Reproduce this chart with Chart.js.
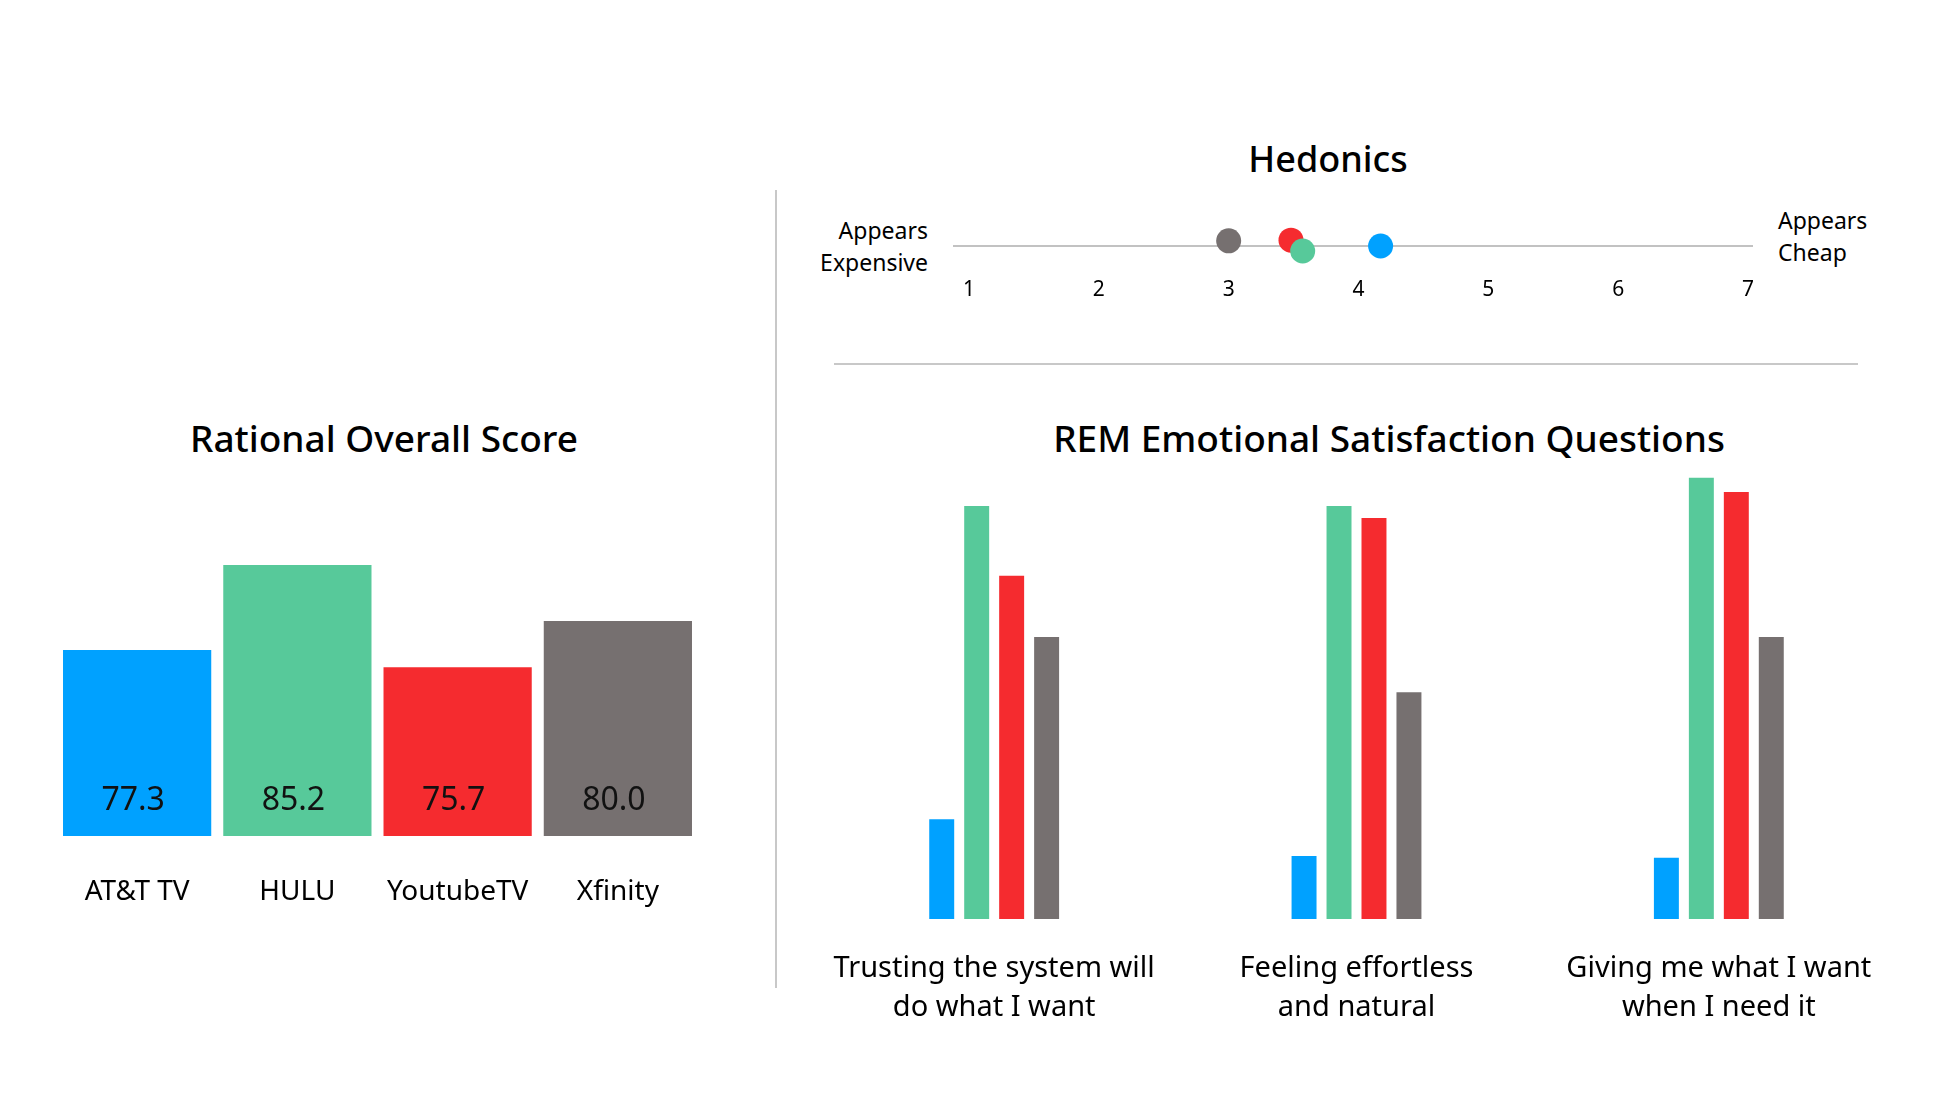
<!DOCTYPE html>
<html>
<head>
<meta charset="utf-8">
<script src="https://cdn.jsdelivr.net/npm/chart.js@4.4.1/dist/chart.umd.min.js"></script>
<style>
  html, body { margin:0; padding:0; background:#fff; width:1960px; height:1116px; overflow:hidden;
    font-family:"Noto Sans", sans-serif; color:#000; }
  .box { position:absolute; }
  .title { position:absolute; font-weight:500; font-size:37px; line-height:44px; white-space:nowrap; transform:translateX(-50%); }
  .side { position:absolute; font-size:23px; line-height:32px; white-space:nowrap; }
  .rule { position:absolute; background:#c8c8c8; }
</style>
</head>
<body>

<div class="title" style="left:384px; top:416px;">Rational Overall Score</div>
<div class="title" style="left:1328px; top:137px; font-size:36px;">Hedonics</div>
<div class="title" style="left:1389px; top:416px;">REM Emotional Satisfaction Questions</div>

<div class="side" style="right:1032px; top:214px; text-align:right;">Appears<br>Expensive</div>
<div class="side" style="left:1778px; top:204px; text-align:left;">Appears<br>Cheap</div>

<div class="rule" style="left:775px; top:190px; width:2px; height:798px;"></div>
<div class="rule" style="left:834px; top:363px; width:1024px; height:2px;"></div>

<div class="box" style="left:0px; top:380px; width:776px; height:560px;"><canvas id="rational"></canvas></div>
<div class="box" style="left:800px; top:200px; width:1000px; height:120px;"><canvas id="hedonics"></canvas></div>
<div class="box" style="left:790px; top:440px; width:1170px; height:600px;"><canvas id="rem"></canvas></div>

<script>
// ---------- data ----------
const brands = ["AT&T TV", "HULU", "YoutubeTV", "Xfinity"];
const brandColors = ["#00a1ff", "#57c99a", "#f52b2f", "#767070"];

// Rational Overall Score
const rationalScores = [77.3, 85.2, 75.7, 80.0];

// Hedonics (1 = Appears Expensive, 7 = Appears Cheap)
const hedonicTicks = [1, 2, 3, 4, 5, 6, 7];
const hedonicOrder = ["Xfinity", "YoutubeTV", "HULU", "AT&T TV"];   // drawing order
const hedonicScores = [3.0, 3.48, 3.57, 4.17];
const hedonicOffset = [0.26, 0.29, -0.25, 0.0];                     // slight vertical jitter
const hedonicColors = ["#767070", "#f52b2f", "#57c99a", "#00a1ff"];

// REM Emotional Satisfaction Questions
const remQuestions = [
  ["Trusting the system will", "do what I want"],
  ["Feeling effortless", "and natural"],
  ["Giving me what I want", "when I need it"]
];
const remATT      = [21.7, 13.7, 13.3];
const remHULU     = [89.8, 89.8, 95.9];
const remYoutube  = [74.6, 87.2, 92.8];
const remXfinity  = [61.3, 49.3, 61.3];

// ---------- charts ----------
Chart.defaults.font.family = '"Noto Sans", sans-serif';
Chart.defaults.color = '#000';
Chart.defaults.animation = false;
Chart.defaults.plugins.legend.display = false;
Chart.defaults.plugins.tooltip.enabled = false;

const valueLabels = {
  id: 'valueLabels',
  afterDatasetsDraw(chart) {
    const ctx = chart.ctx;
    const meta = chart.getDatasetMeta(0);
    const base = chart.chartArea.bottom;
    ctx.save();
    ctx.font = '32px "Noto Sans", sans-serif';
    ctx.fillStyle = '#111111';
    ctx.textAlign = 'center';
    ctx.textBaseline = 'alphabetic';
    meta.data.forEach((bar, i) => {
      ctx.fillText(rationalScores[i].toFixed(1), bar.x - 4, base - 26);
    });
    ctx.restore();
  }
};

new Chart(document.getElementById('rational'), {
  type: 'bar',
  data: {
    labels: brands,
    datasets: [{
      data: rationalScores,
      backgroundColor: brandColors,
      borderWidth: 0,
      barPercentage: 0.925,
      categoryPercentage: 1.0
    }]
  },
  options: {
    responsive: true,
    maintainAspectRatio: false,
    layout: { padding: { left: 57, right: 78, top: 26, bottom: 0 } },
    scales: {
      x: {
        grid: { display: false, drawTicks: false },
        border: { display: false },
        ticks: { color: '#000', font: { size: 28 }, padding: 39, maxRotation: 0 },
        afterFit(s) { s.height = 104; }
      },
      y: { display: false, min: 60, max: 100 }
    }
  },
  plugins: [valueLabels]
});

new Chart(document.getElementById('hedonics'), {
  type: 'scatter',
  data: {
    datasets: [{
      data: hedonicScores.map((v, i) => ({ x: v, y: hedonicOffset[i] })),
      pointBackgroundColor: hedonicColors,
      pointBorderWidth: 0,
      pointRadius: 12.5,
      pointHoverRadius: 12.5,
      clip: false
    }]
  },
  options: {
    responsive: true,
    maintainAspectRatio: false,
    layout: { padding: { left: 154, right: 48, top: 26, bottom: 54 } },
    scales: {
      x: {
        type: 'linear',
        min: 0.885,
        max: 7.03,
        position: { y: 0 },
        grid: { display: false, drawTicks: false },
        border: { display: true, color: '#c2c2c2', width: 2 },
        ticks: { color: '#000', font: { size: 21 }, padding: 31 },
        afterBuildTicks(s) { s.ticks = hedonicTicks.map(v => ({ value: v })); }
      },
      y: { display: false, min: -1, max: 1 }
    }
  }
});

new Chart(document.getElementById('rem'), {
  type: 'bar',
  data: {
    labels: remQuestions,
    datasets: [
      { data: remATT,     backgroundColor: brandColors[0] },
      { data: remHULU,    backgroundColor: brandColors[1] },
      { data: remYoutube, backgroundColor: brandColors[2] },
      { data: remXfinity, backgroundColor: brandColors[3] }
    ].map(d => Object.assign(d, { borderWidth: 0, barPercentage: 0.714, categoryPercentage: 0.386 }))
  },
  options: {
    responsive: true,
    maintainAspectRatio: false,
    layout: { padding: { left: 23, right: 60, top: 19, bottom: 0 } },
    scales: {
      x: {
        grid: { display: false, drawTicks: false },
        border: { display: false },
        ticks: { color: '#000', font: { size: 29, lineHeight: 1.36 }, padding: 30, maxRotation: 0, autoSkip: false },
        afterFit(s) { s.height = 121; }
      },
      y: { display: false, min: 0, max: 100 }
    }
  }
});
</script>
</body>
</html>
